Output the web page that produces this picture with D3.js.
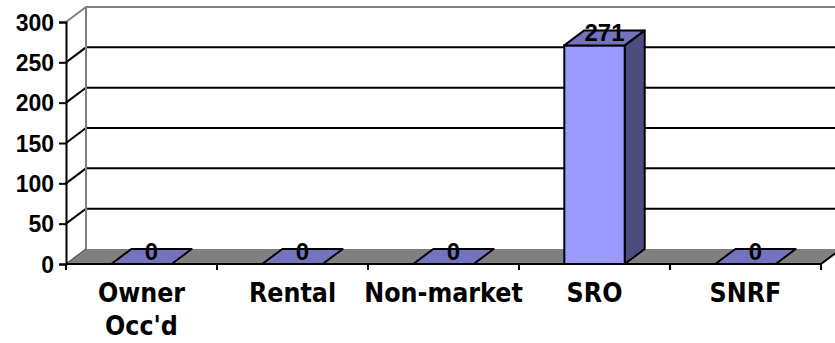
<!DOCTYPE html>
<html>
<head>
<meta charset="utf-8">
<script src="https://cdn.jsdelivr.net/npm/d3@7"></script>
<style>
  html, body { margin: 0; padding: 0; background: #fff; }
  svg { display: block; }
  text { font-weight: bold; fill: #000; }
  .num { font-family: "Liberation Sans", Arial, sans-serif; }
  .cat { font-family: "DejaVu Sans Condensed", "DejaVu Sans", sans-serif; font-stretch: condensed; }
</style>
</head>
<body>
<svg id="chart" width="835" height="343"></svg>
<script>
// Units by housing type
const categories = ["Owner Occ'd", "Rental", "Non-market", "SRO", "SNRF"];
const values = [0, 0, 0, 271, 0];
const yTicks = [0, 50, 100, 150, 200, 250, 300];

const W = 835, H = 343;
const plotL = 66, plotR = 821, plotB = 264, plotT = 22;
const dx = 20, dy = -15; // depth offset of the 3-D box

const svg = d3.select("#chart");

const y = d3.scaleLinear().domain([0, 300]).range([plotB, plotT]);
const x = d3.scaleBand().domain(categories).range([plotL, plotR])
  .paddingInner(0.6).paddingOuter(0.3);
const xEdges = d3.scaleBand().domain(categories).range([plotL, plotR]);

const colFront = "#9999FF", colTop = "#7373BF", colSide = "#4C4C80";

// back wall
const wallRight = W + 10;
svg.append("rect")
  .attr("x", plotL + dx).attr("y", y(300) + dy)
  .attr("width", wallRight - plotL - dx).attr("height", y(0) - y(300))
  .attr("fill", "#fff");

// gridlines: left side-wall diagonal + back-wall horizontal
const grid = svg.append("g");
yTicks.filter(t => t > 0 && t < 300).forEach(t => {
  grid.append("path")
    .attr("d", `M${plotL},${y(t)}L${plotL + dx},${y(t) + dy}L${wallRight},${y(t) + dy}`)
    .attr("fill", "none").attr("stroke", "#000").attr("stroke-width", 2);
});

// wall outline (gray)
svg.append("path")
  .attr("d", `M${plotL},${y(300)}L${plotL + dx},${y(300) + dy}L${wallRight},${y(300) + dy}`)
  .attr("fill", "none").attr("stroke", "#808080").attr("stroke-width", 2);
svg.append("line")
  .attr("x1", plotL + dx).attr("x2", plotL + dx)
  .attr("y1", y(300) + dy).attr("y2", y(0) + dy)
  .attr("stroke", "#808080").attr("stroke-width", 2);

// floor
svg.append("path")
  .attr("d", `M${plotL},${y(0)}L${plotR},${y(0)}L${plotR + dx},${y(0) + dy}L${plotL + dx},${y(0) + dy}Z`)
  .attr("fill", "#808080").attr("stroke", "none");
svg.append("line")
  .attr("x1", plotL).attr("y1", y(0)).attr("x2", plotL + dx).attr("y2", y(0) + dy)
  .attr("stroke", "#606060").attr("stroke-width", 1.5);
svg.append("line")
  .attr("x1", plotR).attr("y1", y(0)).attr("x2", plotR + dx).attr("y2", y(0) + dy)
  .attr("stroke", "#000").attr("stroke-width", 2);

// bars
const bars = svg.append("g");
categories.forEach((c, i) => {
  const v = values[i];
  const x0 = x(c), x1 = x(c) + x.bandwidth();
  const yt = y(v), yb = y(0);
  const g = bars.append("g");
  if (v > 0) {
    g.append("path")
      .attr("d", `M${x1},${yb}L${x1 + dx},${yb + dy}L${x1 + dx},${yt + dy}L${x1},${yt}Z`)
      .attr("fill", colSide).attr("stroke", "#000").attr("stroke-width", 2).attr("stroke-linejoin", "round");
    g.append("rect")
      .attr("x", x0).attr("y", yt).attr("width", x1 - x0).attr("height", yb - yt)
      .attr("fill", colFront).attr("stroke", "#000").attr("stroke-width", 2);
  }
  g.append("path")
    .attr("d", `M${x0},${yt}L${x1},${yt}L${x1 + dx},${yt + dy}L${x0 + dx},${yt + dy}Z`)
    .attr("fill", colTop).attr("stroke", "#000").attr("stroke-width", 2).attr("stroke-linejoin", "round");
  // value label
  svg.append("text")
    .attr("class", "num")
    .attr("x", (x0 + x1) / 2 + dx / 2)
    .attr("y", yt + dy / 2 + 3)
    .attr("text-anchor", "middle")
    .attr("font-size", 24)
    .text(v);
});

// x axis line with category boundary ticks
const xAxis = svg.append("g");
xAxis.append("line")
  .attr("x1", plotL).attr("x2", plotR).attr("y1", y(0)).attr("y2", y(0))
  .attr("stroke", "#000").attr("stroke-width", 2);
categories.concat([null]).forEach(c => {
  const xe = c === null ? plotR : xEdges(c);
  xAxis.append("line")
    .attr("x1", xe).attr("x2", xe).attr("y1", y(0)).attr("y2", y(0) + 6)
    .attr("stroke", "#000").attr("stroke-width", 2);
});

// category labels
categories.forEach(c => {
  const lines = c.split(" ");
  const cx = xEdges(c) + xEdges.bandwidth() / 2;
  const t = svg.append("text")
    .attr("class", "cat")
    .attr("x", cx)
    .attr("y", 302)
    .attr("text-anchor", "middle")
    .attr("font-size", 26.5);
  lines.forEach((ln, j) => {
    t.append("tspan").attr("x", cx)
      .attr("dy", j === 0 ? 0 : 33).text(ln);
  });
});

// y axis
const yAxis = svg.append("g").attr("transform", `translate(${plotL},0)`)
  .call(d3.axisLeft(y).tickValues(yTicks).tickSize(7).tickPadding(5));
yAxis.select(".domain").attr("stroke", "#000").attr("stroke-width", 2);
yAxis.selectAll(".tick line").attr("stroke", "#000").attr("stroke-width", 2);
yAxis.selectAll(".tick text")
  .attr("class", "num")
  .attr("font-family", null)
  .attr("font-weight", "bold")
  .attr("font-size", 23)
  .attr("fill", "#000")
  .attr("dy", "0.36em");
</script>
</body>
</html>
